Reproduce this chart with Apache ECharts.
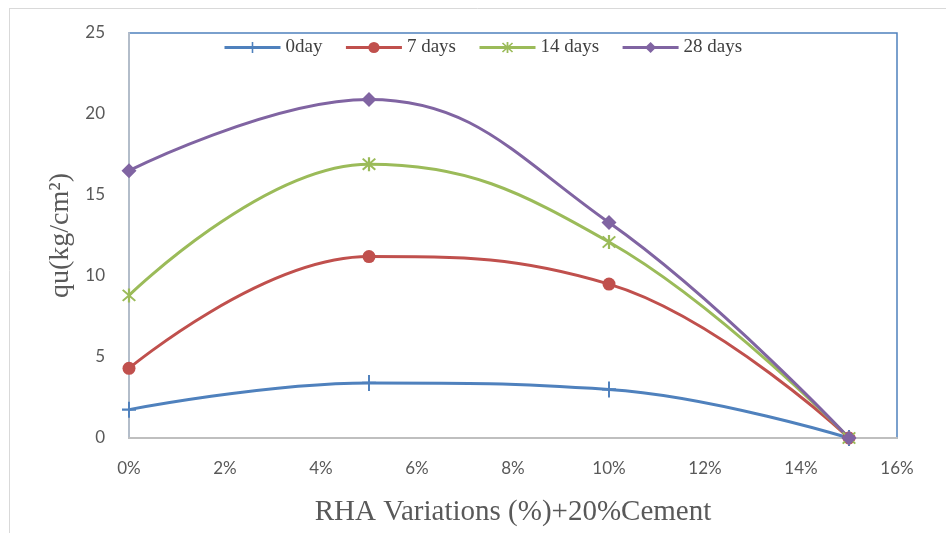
<!DOCTYPE html>
<html>
<head>
<meta charset="utf-8">
<script src="https://cdn.jsdelivr.net/npm/echarts@6/dist/echarts.min.js"></script>
<style>html,body{margin:0;padding:0;background:#fff;overflow:hidden}#c{width:946px;height:533px}</style>
</head>
<body>
<div id="c"></div>
<script>
var xValues = [0, 5, 10, 15];
var seriesNames = ['0day', '7 days', '14 days', '28 days'];
var day0 = [1.75, 3.4, 3.0, 0];
var day7 = [4.3, 11.2, 9.5, 0];
var day14 = [8.8, 16.9, 12.1, 0];
var day28 = [16.5, 20.9, 13.3, 0];
var yTicks = [0, 5, 10, 15, 20, 25];
var xTicks = [0, 2, 4, 6, 8, 10, 12, 14, 16];

function pairs(vals) { return xValues.map(function (x, i) { return [x, vals[i]]; }); }

var colors = ['#4f81bd', '#c0504d', '#9bbb59', '#8064a2'];
var plusPath = 'path://M0,4.3h10v1.4h-10zM4.3,0h1.4v10h-1.4z';
var starPath = 'path://M4.3,0h1.4v10h-1.4zM0.6,1.5L1.5,0.6L9.4,8.5L8.5,9.4zM8.5,0.6L9.4,1.5L1.5,9.4L0.6,8.5z';

function mk(name, data, color, symbol, size) {
  return {
    name: name, type: 'line', data: pairs(data), smooth: 0.42,
    symbol: symbol, symbolSize: size,
    lineStyle: { color: color, width: 3 },
    itemStyle: { color: color },
    z: 3
  };
}

var chart = echarts.init(document.getElementById('c'), null, { renderer: 'canvas' });
chart.setOption({
  backgroundColor: '#fff',
  animation: false,
  graphic: [
    { type: 'line', shape: { x1: 9.5, y1: 8, x2: 9.5, y2: 533 }, style: { stroke: '#d9d9d9', lineWidth: 1 } },
    { type: 'line', shape: { x1: 9, y1: 8.5, x2: 946, y2: 8.5 }, style: { stroke: '#d9d9d9', lineWidth: 1 } }
  ],
  grid: { left: 129, right: 49, top: 33, bottom: 95, outerBoundsMode: 'none', containLabel: false, show: true, borderColor: '#4f81bd', borderWidth: 1.5, backgroundColor: 'transparent' },
  legend: {
    top: 33, left: 218, itemGap: 22, itemWidth: 56, itemHeight: 14,
    data: seriesNames,
    lineStyle: { width: 3 },
    textStyle: { fontFamily: 'Liberation Serif', fontSize: 19, color: '#404040' }
  },
  xAxis: {
    type: 'value', min: 0, max: 16, interval: 2,
    name: 'RHA Variations (%)+20%Cement', nameLocation: 'middle', nameGap: 60,
    nameTextStyle: { fontFamily: 'Liberation Serif', fontSize: 29, color: '#595959' },
    axisLine: { show: true, onZero: false, lineStyle: { color: '#bfbfbf', width: 2 } },
    axisTick: { show: false },
    splitLine: { show: false },
    axisLabel: { margin: 22, fontFamily: 'Lato', fontSize: 17, color: '#595959', formatter: '{value}%' }
  },
  yAxis: {
    type: 'value', min: 0, max: 25, interval: 5,
    name: 'qu(kg/cm²)', nameLocation: 'middle', nameGap: 54, nameRotate: 90,
    nameTextStyle: { fontFamily: 'Liberation Serif', fontSize: 28, color: '#595959' },
    axisLine: { show: true, lineStyle: { color: '#b3bdca', width: 2 } },
    axisTick: { show: false },
    splitLine: { show: false },
    axisLabel: { margin: 24, fontFamily: 'Lato', fontSize: 17, color: '#595959' }
  },
  series: [
    mk(seriesNames[0], day0, colors[0], plusPath, [14, 16]),
    mk(seriesNames[1], day7, colors[1], 'circle', 13),
    mk(seriesNames[2], day14, colors[2], starPath, 14),
    mk(seriesNames[3], day28, colors[3], 'diamond', 15)
  ]
});
</script>
</body>
</html>
